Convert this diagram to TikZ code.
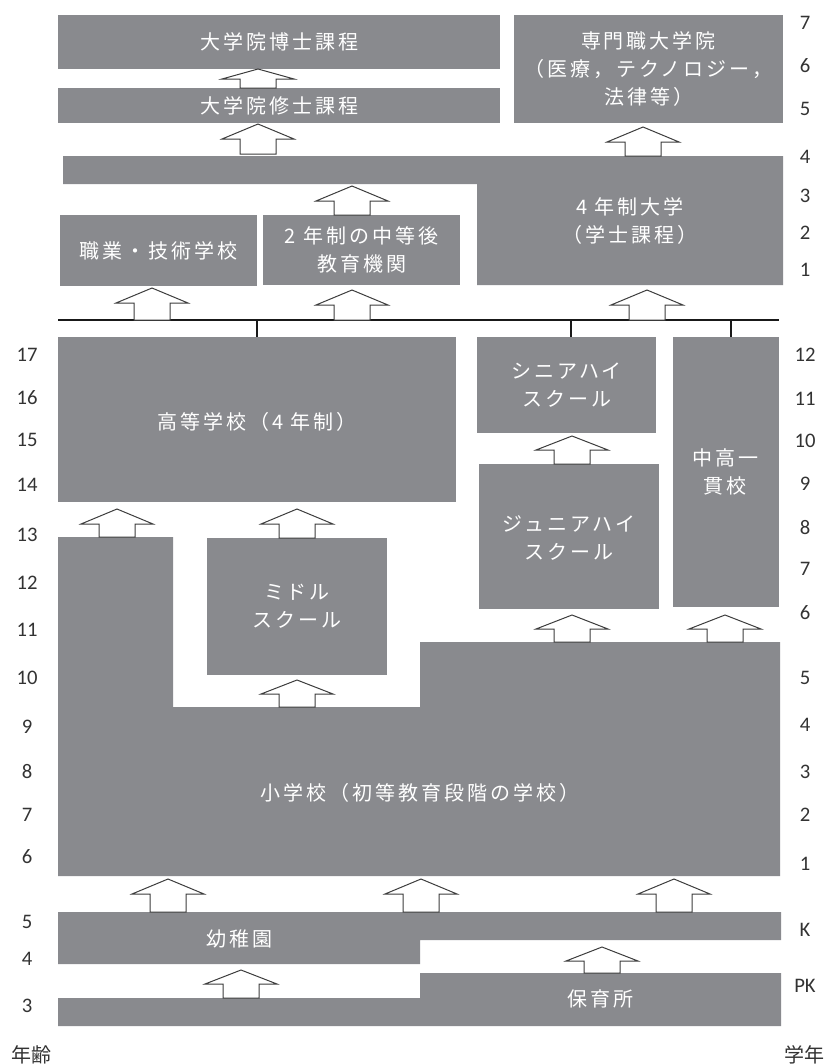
\documentclass[tikz,border=0pt]{standalone}
\usepackage{fontspec}
\usetikzlibrary{fit}
\newfontfamily\jp{Noto Sans CJK JP}[LetterSpace=15]
\newfontfamily\jpplain{Noto Sans CJK JP}
\newfontfamily\numfont{Carlito}
\definecolor{boxgray}{RGB}{137,138,142}
\definecolor{arrline}{RGB}{60,60,60}
\newcommand\uarr[4]{\draw[uparrow] (#1-18,#2) -- (#1-18,#3+#4) -- (#1-36,#3+#4) -- (#1,#3) -- (#1+36,#3+#4) -- (#1+18,#3+#4) -- (#1+18,#2) -- cycle;}
\begin{document}
\begin{tikzpicture}[x=0.75pt,y=-0.75pt,
  box/.style={fill=boxgray,draw=none,inner sep=0pt},
  lbl/.style={text=white,align=center,inner sep=0pt,font=\jp\fontsize{15pt}{21pt}\selectfont},
  uparrow/.style={fill=white,draw=arrline,line width=0.75pt,line join=miter},
  side/.style={inner sep=0pt,text=black!80,font=\numfont\fontsize{15.5pt}{18pt}\selectfont},
  axis/.style={inner sep=0pt,text=black!80,font=\jpplain\fontsize{15pt}{18pt}\selectfont},
  bar/.style={draw=black!90,line width=1.6pt}]
\useasboundingbox (0,0) rectangle (828,1064);

% --- top boxes
\node[box,fit={(58,15)(500,69)}] (d) {};
\node[lbl] at (d.center) {大学院博士課程};
\node[box,fit={(58,88)(500,123)}] (m) {};
\node[lbl] at (m.center) {大学院修士課程};
\node[box,fit={(514,15)(783,123)}] (p) {};
\node[lbl] at (p.center) {専門職大学院\\（医療，テクノロジー，\\法律等）};
\fill[boxgray] (63,156) -- (783,156) -- (783,285) -- (477,285) -- (477,184) -- (63,184) -- cycle;
\node[lbl] (u) at (630,221) {4 年制大学\\（学士課程）};
\node[box,fit={(60,215)(257,286)}] (v) {};
\node[lbl] at (v.center) {職業・技術学校};
\node[box,fit={(263,215)(460,285)}] (t) {};
\node[lbl] at (t.center) {2 年制の中等後\\教育機関};

% --- divider line
\coordinate (l0) at (58,320);
\coordinate (l1) at (779,320);
\draw[bar] (l0) -- (l1);
\coordinate (k1) at (257,320);
\coordinate (k2) at (571,320);
\coordinate (k3) at (731,320);
\draw[bar] (k1) -- (257,337);
\draw[bar] (k2) -- (571,337);
\draw[bar] (k3) -- (731,337);

% --- secondary
\node[box,fit={(58,337)(456,502)}] (hs) {};
\node[lbl] at ([yshift=-2pt]hs.center) {高等学校（4 年制）};
\node[box,fit={(477,337)(656,433)}] (sh) {};
\node[lbl] at (sh.center) {シニアハイ\\スクール};
\node[box,fit={(479,464)(659,609)}] (jh) {};
\node[lbl] at ([yshift=-1pt]jh.center) {ジュニアハイ\\スクール};
\node[box,fit={(673,337)(779,607)}] (ss) {};
\node[lbl] at (725,472) {中高一\\貫校};
\node[box,fit={(207,538)(387,675)}] (ms) {};
\node[lbl] at (297,606) {ミドル\\スクール};

% --- elementary
\fill[boxgray] (58,537) -- (173,537) -- (173,707) -- (420,707) -- (420,642) -- (780,642) -- (780,876) -- (58,876) -- cycle;
\node[lbl] (el) at (420,793) {小学校（初等教育段階の学校）};

% --- kindergarten / nursery
\fill[boxgray] (58,912) -- (781,912) -- (781,940) -- (420,940) -- (420,964) -- (58,964) -- cycle;
\node[lbl] (kg) at (239,939) {幼稚園};
\fill[boxgray] (58,998) -- (420,998) -- (420,973) -- (781,973) -- (781,1026) -- (58,1026) -- cycle;
\node[lbl] (ns) at (600,999) {保育所};

% --- block arrows
\uarr{258}{88}{69}{10}
\uarr{258}{154}{124}{15}
\uarr{352}{215}{186}{15}
\uarr{643}{156}{127}{15}
\uarr{152}{320}{288}{15}
\uarr{352}{320}{290}{15}
\uarr{647}{320}{290}{15}
\uarr{117}{537}{509}{15}
\uarr{297}{538}{509}{15}
\uarr{297}{707}{680}{14}
\uarr{572}{464}{436}{14}
\uarr{572}{642}{615}{14}
\uarr{725}{642}{615}{14}
\uarr{168}{912}{879}{15}
\uarr{421}{912}{879}{15}
\uarr{674}{912}{879}{15}
\uarr{241}{998}{970}{14}
\uarr{602}{973}{947}{14}

% --- ages (left)
\foreach \t/\yy in {17/355,16/398,15/440,14/485,13/535,12/583,11/630,10/678,9/727,8/772,7/815,6/857,5/922,4/959,3/1006}
  \node[side] at (27,\yy) {\t};
% --- grades (right)
\foreach \t/\yy in {7/23,6/66,5/109,4/157,3/196,2/233,1/270,12/355,11/399,10/441,9/484,8/528,7/569,6/613,5/678,4/725,3/772,2/815,1/864,K/930,PK/986}
  \node[side] at (805,\yy) {\t};
\node[axis] (age) at (32,1055) {年齢};
\node[axis] (grade) at (804,1055) {学年};
\end{tikzpicture}
\end{document}
